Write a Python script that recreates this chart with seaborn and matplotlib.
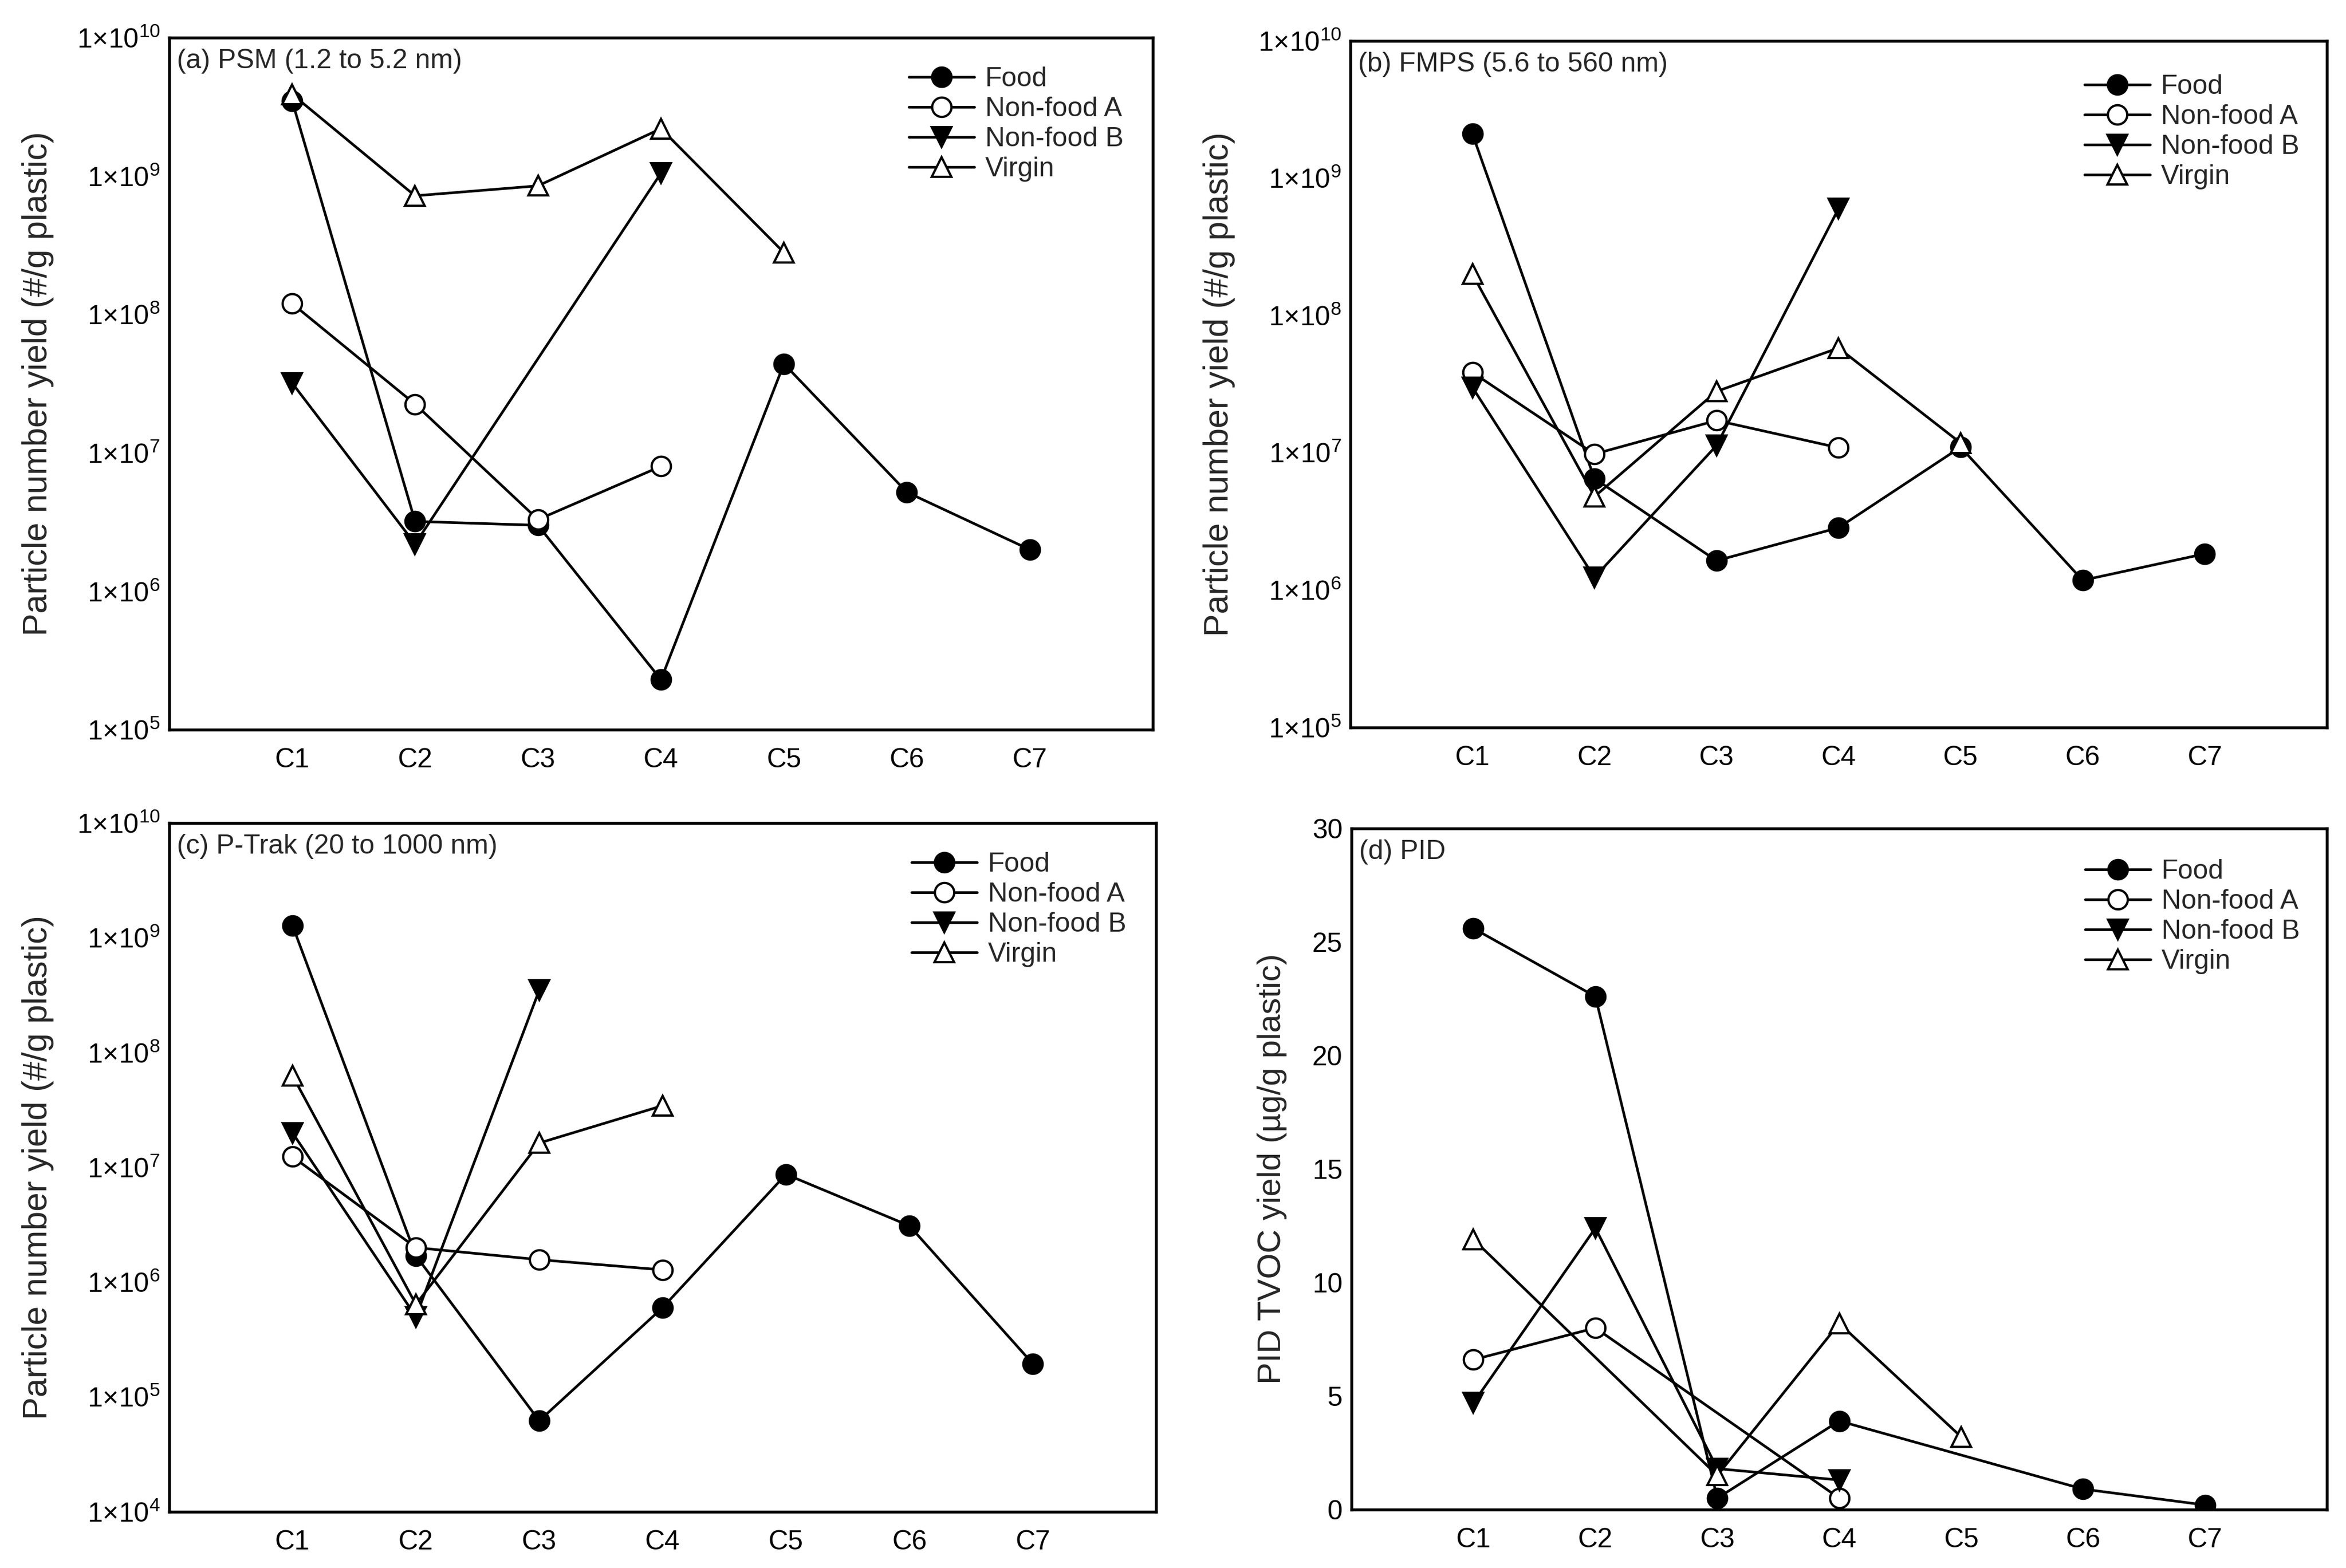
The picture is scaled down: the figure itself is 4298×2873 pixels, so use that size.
import numpy as np
import pandas as pd
import matplotlib
matplotlib.use("Agg")
import matplotlib.pyplot as plt
import matplotlib.ticker as mticker
import seaborn as sns

nan = np.nan

categories = ["C1", "C2", "C3", "C4", "C5", "C6", "C7"]
series_names = ["Food", "Non-food A", "Non-food B", "Virgin"]

# (a) PSM
psm_food = [3.5e9, 3.2e6, 3.0e6, 2.3e5, 4.4e7, 5.2e6, 2.0e6]
psm_nfa = [1.2e8, 2.25e7, 3.3e6, 8.0e6, nan, nan, nan]
psm_nfb = [3.2e7, 2.2e6, nan, 1.05e9, nan, nan, nan]
psm_virgin = [3.9e9, 7.2e8, 8.5e8, 2.2e9, 2.8e8, nan, nan]

# (b) FMPS
fmps_food = [2.1e9, 6.5e6, 1.64e6, 2.85e6, 1.1e7, 1.18e6, 1.84e6]
fmps_nfa = [3.85e7, 9.8e6, 1.72e7, 1.09e7, nan, nan, nan]
fmps_nfb = [3.0e7, 1.24e6, 1.13e7, 6.0e8, nan, nan, nan]
fmps_virgin = [2.0e8, 4.8e6, 2.8e7, 5.8e7, 1.18e7, nan, nan]

# (c) P-Trak
ptrak_food = [1.28e9, 1.7e6, 6.2e4, 6.0e5, 8.7e6, 3.1e6, 1.95e5]
ptrak_nfa = [1.24e7, 2.0e6, 1.57e6, 1.28e6, nan, nan, nan]
ptrak_nfb = [2.0e7, 5.0e5, 3.5e8, nan, nan, nan, nan]
ptrak_virgin = [6.3e7, 6.4e5, 1.63e7, 3.45e7, nan, nan, nan]

# (d) PID
pid_food = [25.6, 22.6, 0.5, 3.9, nan, 0.9, 0.2]
pid_nfa = [6.6, 8.0, nan, 0.5, nan, nan, nan]
pid_nfb = [4.7, 12.4, 1.8, 1.3, nan, nan, nan]
pid_virgin = [11.9, nan, 1.5, 8.2, 3.2, nan, nan]

panel_titles = ["(a) PSM (1.2 to 5.2 nm)", "(b) FMPS (5.6 to 560 nm)",
                "(c) P-Trak (20 to 1000 nm)", "(d) PID"]
ylabel_count = "Particle number yield (#/g plastic)"
ylabel_pid = "PID TVOC yield (\u00b5g/g plastic)"

sns.set_style("white")
plt.rcParams["font.family"] = ["Liberation Sans", "DejaVu Sans"]
plt.rcParams["mathtext.default"] = "regular"
plt.rcParams["mathtext.fontset"] = "custom"
plt.rcParams["mathtext.rm"] = "Liberation Sans"
plt.rcParams["mathtext.it"] = "Liberation Sans"

fig = plt.figure(figsize=(4298 / 300, 2873 / 300), dpi=300)
fig.patch.set_facecolor("white")

positions = [
    [0.0721, 0.5346, 0.4193, 0.4414],
    [0.5756, 0.5360, 0.4162, 0.4380],
    [0.0721, 0.0359, 0.4207, 0.4392],
    [0.5761, 0.0373, 0.4158, 0.4343],
]
legend_y = [0.958, 0.951, 0.958, 0.955]

styles = {
    "Food": dict(marker="o", markerfacecolor="black"),
    "Non-food A": dict(marker="o", markerfacecolor="white"),
    "Non-food B": dict(marker="v", markerfacecolor="black"),
    "Virgin": dict(marker="^", markerfacecolor="white"),
}

panel_data = [
    [psm_food, psm_nfa, psm_nfb, psm_virgin],
    [fmps_food, fmps_nfa, fmps_nfb, fmps_virgin],
    [ptrak_food, ptrak_nfa, ptrak_nfb, ptrak_virgin],
    [pid_food, pid_nfa, pid_nfb, pid_virgin],
]
log_ylims = [(1e5, 1e10), (1e5, 1e10), (1e4, 1e10), None]

xpos = np.arange(1, len(categories) + 1)


def log_fmt(v, pos):
    e = int(round(np.log10(v)))
    return r"$1{\times}10^{%d}$" % e


for i, (pos, data) in enumerate(zip(positions, panel_data)):
    ax = fig.add_axes(pos)
    is_log = log_ylims[i] is not None
    if is_log:
        ax.set_yscale("log")
    for name, vals in zip(series_names, data):
        df = pd.DataFrame({"x": xpos, "y": vals}).dropna()
        sns.lineplot(data=df, x="x", y="y", ax=ax, color="black",
                     estimator=None, errorbar=None, sort=False,
                     linewidth=1.15, markersize=8.5, markeredgecolor="black",
                     markeredgewidth=1.0, label=name, **styles[name])
    ax.set_xlim(0, 8)
    ax.set_xticks(xpos)
    ax.set_xticklabels(categories)
    if is_log:
        ax.set_ylim(*log_ylims[i])
        ax.yaxis.set_major_locator(mticker.LogLocator(base=10, numticks=20))
        ax.yaxis.set_minor_locator(mticker.LogLocator(base=10, subs=np.arange(2, 10), numticks=20))
        ax.yaxis.set_major_formatter(mticker.FuncFormatter(log_fmt))
        ax.yaxis.set_minor_formatter(mticker.NullFormatter())
        ax.set_ylabel(ylabel_count, fontsize=15, labelpad=10)
    else:
        ax.set_ylim(0, 30)
        ax.yaxis.set_major_locator(mticker.MultipleLocator(5))
        ax.yaxis.set_minor_locator(mticker.MultipleLocator(1))
        ax.set_ylabel(ylabel_pid, fontsize=14.5, labelpad=11)
    ax.set_xlabel("")
    ax.tick_params(axis="both", which="both", direction="in", top=False, right=False,
                   colors="black", width=1.1)
    ax.tick_params(axis="y", which="major", length=5, labelsize=12, pad=4)
    ax.tick_params(axis="y", which="minor", length=3.2)
    ax.tick_params(axis="x", which="major", length=5, labelsize=12, pad=8)
    ax.tick_params(axis="x", which="minor", length=0)
    for sp in ax.spines.values():
        sp.set_visible(True)
        sp.set_color("black")
        sp.set_linewidth(1.3)
    ax.text(0.008, 0.984, panel_titles[i], transform=ax.transAxes,
            ha="left", va="top", fontsize=12)
    ax.legend(loc="upper left", bbox_to_anchor=(0.752, legend_y[i]), frameon=False,
              borderpad=0, borderaxespad=0, handlelength=2.4, handletextpad=0.4,
              labelspacing=0.18, fontsize=12)

fig.savefig("out.png", dpi=300, facecolor="white")
